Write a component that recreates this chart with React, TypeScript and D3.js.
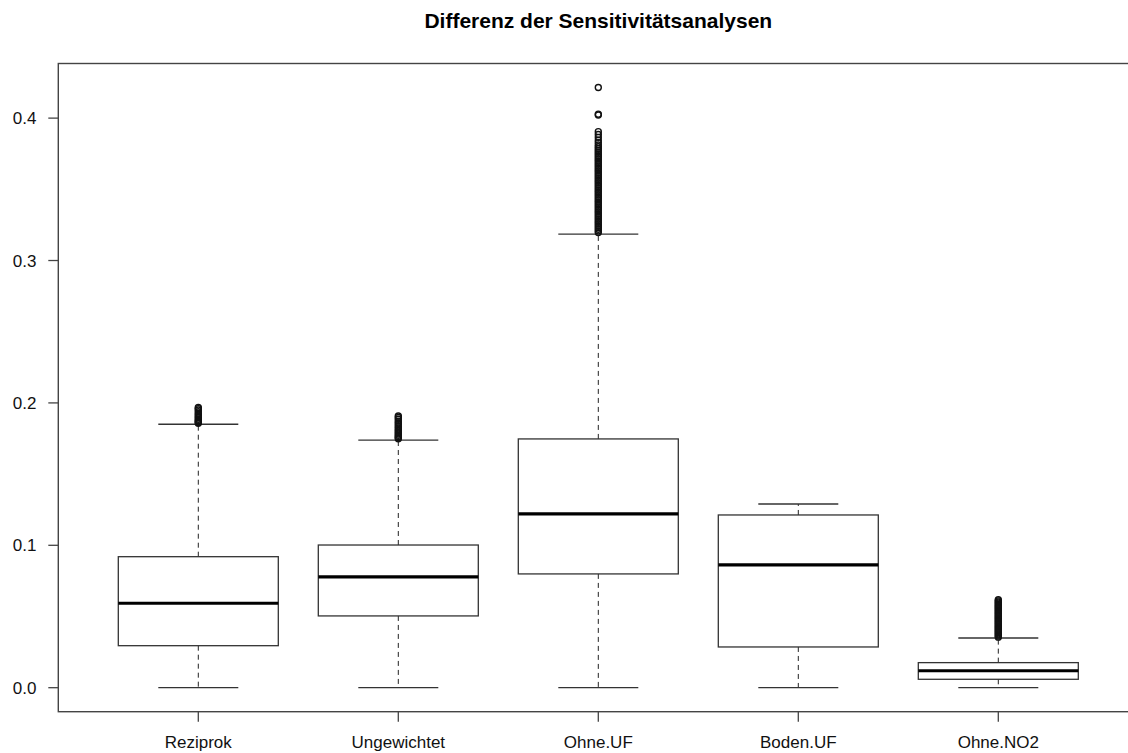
import { useEffect, useRef } from "react";
import * as d3 from "d3";

// values
const categories = ["Reziprok", "Ungewichtet", "Ohne.UF", "Boden.UF", "Ohne.NO2"];
const lowerWhisker = [0, 0, 0, 0, 0];
const q1 = [0.0295, 0.0504, 0.0799, 0.0286, 0.0059];
const medians = [0.0593, 0.0778, 0.122, 0.0862, 0.0119];
const q3 = [0.092, 0.1002, 0.1747, 0.1213, 0.0176];
const upperWhisker = [0.185, 0.1738, 0.3185, 0.129, 0.0349];

const outReziprok = [0.1968, 0.196, 0.195, 0.1938, 0.1926, 0.1915, 0.1905, 0.1895, 0.1885, 0.1877, 0.187, 0.1863, 0.1857];
const outUngewichtet = [0.1908, 0.1898, 0.1885, 0.1872, 0.186, 0.1848, 0.1836, 0.1825, 0.1814, 0.1803, 0.1792, 0.1782,
  0.1772, 0.1763, 0.1755, 0.1748];
const outOhneUF = [0.4215, 0.4028, 0.4022, 0.3905, 0.3885, 0.3865, 0.3845, 0.3828, 0.3812, 0.3798, 0.3785, 0.3772,
  0.376, 0.3748, 0.3736, 0.3724, 0.3712, 0.37, 0.3688, 0.3676, 0.3664, 0.3652, 0.364, 0.3628, 0.3616, 0.3604,
  0.3592, 0.358, 0.3568, 0.3556, 0.3544, 0.3532, 0.352, 0.3508, 0.3496, 0.3484, 0.3472, 0.346, 0.3448, 0.3436,
  0.3424, 0.3412, 0.34, 0.3388, 0.3376, 0.3364, 0.3352, 0.334, 0.3328, 0.3316, 0.3304, 0.3292, 0.328, 0.3268,
  0.3256, 0.3244, 0.3232, 0.322, 0.3208, 0.3196];
const outBodenUF: number[] = [];
const outOhneNO2 = [0.0618, 0.061, 0.0602, 0.0594, 0.0586, 0.0578, 0.057, 0.0562, 0.0554, 0.0546, 0.0538, 0.053,
  0.0522, 0.0514, 0.0506, 0.0498, 0.049, 0.0482, 0.0474, 0.0466, 0.0458, 0.045, 0.0442, 0.0434, 0.0426, 0.0418,
  0.041, 0.0402, 0.0394, 0.0386, 0.0378, 0.037, 0.0362, 0.0355];
const outliers = [outReziprok, outUngewichtet, outOhneUF, outBodenUF, outOhneNO2];

const yTicks = [0, 0.1, 0.2, 0.3, 0.4];
const title = "Differenz der Sensitivitätsanalysen";

var W = 1128, H = 753;
var plot = { left: 58.3, right: 1138.3, top: 63.5, bottom: 711.7 };
var font = "'Liberation Sans', Arial, sans-serif";

function App() {
  const ref = useRef<SVGSVGElement>(null);

  useEffect(() => {
    draw(ref.current);
  }, []);

  return (
    <svg ref={ref} width={W} height={H}
      style={{ position: "absolute", left: 0, top: 0, background: "#fff" }}></svg>
  );
}

function draw(node: SVGSVGElement | null) {
  if (!node) return;
  var svg = d3.select(node);
  svg.selectAll("*").remove();

  // R style range: extend data range by 4% on each side
  var allVals = d3.merge([lowerWhisker, upperWhisker, ...outliers]) as number[];
  var lo = d3.min(allVals) as number, hi = d3.max(allVals) as number;
  var pad = (hi - lo) * 0.04;
  var y = d3.scaleLinear().domain([lo - pad, hi + pad]).range([plot.bottom, plot.top]);
  var n = categories.length;
  var x = d3.scaleLinear().domain([0.5 - 0.04 * n, n + 0.5 + 0.04 * n]).range([plot.left, plot.right]);
  var boxHalf = x(1.4) - x(1);
  var stapleHalf = boxHalf / 2;

  var g = svg.append("g");

  categories.forEach(function (c, i) {
    var cx = x(i + 1);
    // whiskers
    g.append("line")
      .attr("x1", cx).attr("x2", cx)
      .attr("y1", y(q3[i])).attr("y2", y(upperWhisker[i]))
      .attr("stroke", "#222").attr("stroke-dasharray", "5,4");
    g.append("line")
      .attr("x1", cx).attr("x2", cx)
      .attr("y1", y(q1[i])).attr("y2", y(lowerWhisker[i]))
      .attr("stroke", "#222").attr("stroke-dasharray", "5,4");
    // staples
    [upperWhisker[i], lowerWhisker[i]].forEach(function (v) {
      g.append("line")
        .attr("x1", cx - stapleHalf).attr("x2", cx + stapleHalf)
        .attr("y1", y(v)).attr("y2", y(v))
        .attr("stroke", "#333").attr("stroke-width", 1.3);
    });
    // box
    g.append("rect")
      .attr("x", cx - boxHalf).attr("width", boxHalf * 2)
      .attr("y", y(q3[i])).attr("height", y(q1[i]) - y(q3[i]))
      .attr("fill", "none").attr("stroke", "#333").attr("stroke-width", 1.3);
    // median
    g.append("line")
      .attr("x1", cx - boxHalf).attr("x2", cx + boxHalf)
      .attr("y1", y(medians[i])).attr("y2", y(medians[i]))
      .attr("stroke", "#000").attr("stroke-width", 3.2);
    // outliers
    g.selectAll(null)
      .data(outliers[i])
      .enter()
      .append("circle")
      .attr("cx", cx)
      .attr("cy", function (d) { return y(d); })
      .attr("r", 3)
      .attr("fill", "none")
      .attr("stroke", "#111")
      .attr("stroke-width", 1.4);
  });

  // frame
  svg.append("rect")
    .attr("x", plot.left).attr("y", plot.top)
    .attr("width", plot.right - plot.left).attr("height", plot.bottom - plot.top)
    .attr("fill", "none").attr("stroke", "#444").attr("stroke-width", 1.4);

  // y axis
  var ya = svg.append("g");
  yTicks.forEach(function (t) {
    ya.append("line")
      .attr("x1", plot.left - 10).attr("x2", plot.left)
      .attr("y1", y(t)).attr("y2", y(t))
      .attr("stroke", "#444").attr("stroke-width", 1.3);
    ya.append("text")
      .attr("x", 36.5).attr("y", y(t)).attr("dy", "0.36em")
      .attr("text-anchor", "end")
      .attr("font-family", font).attr("font-size", 17)
      .attr("fill", "#111")
      .text(d3.format(".1f")(t));
  });

  // x axis
  var xa = svg.append("g");
  categories.forEach(function (c, i) {
    xa.append("line")
      .attr("x1", x(i + 1)).attr("x2", x(i + 1))
      .attr("y1", plot.bottom).attr("y2", plot.bottom + 10)
      .attr("stroke", "#444").attr("stroke-width", 1.3);
    xa.append("text")
      .attr("x", x(i + 1)).attr("y", 748)
      .attr("text-anchor", "middle")
      .attr("font-family", font).attr("font-size", 17)
      .attr("fill", "#111")
      .text(c);
  });

  // title
  svg.append("text")
    .attr("x", (plot.left + plot.right) / 2).attr("y", 27.5)
    .attr("text-anchor", "middle")
    .attr("font-family", font).attr("font-size", 21).attr("font-weight", "bold")
    .attr("fill", "#000")
    .text(title);
}

export default App;
